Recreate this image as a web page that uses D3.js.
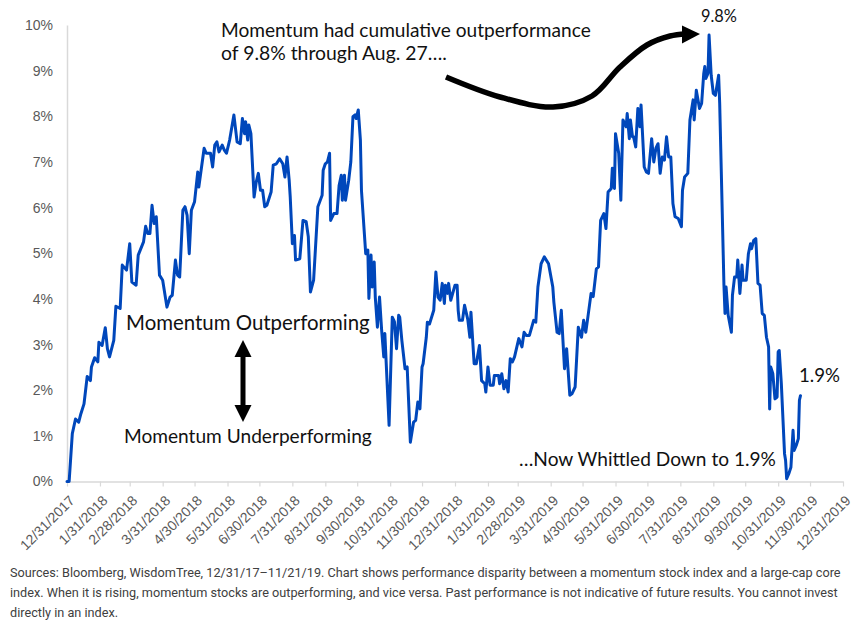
<!DOCTYPE html>
<html><head><meta charset="utf-8">
<script src="https://cdn.jsdelivr.net/npm/d3@7/dist/d3.min.js"></script>
<style>body{margin:0;background:#fff}svg{display:block}</style>
</head><body>
<svg id="chart" width="859" height="630"></svg>
<script>
// ---------------- DATA ----------------
const dates = [
"2017-12-31","2018-01-02","2018-01-05","2018-01-08","2018-01-11","2018-01-13","2018-01-16","2018-01-19","2018-01-22","2018-01-23","2018-01-26","2018-01-29","2018-01-30",
"2018-02-02","2018-02-05","2018-02-07","2018-02-09","2018-02-13","2018-02-15","2018-02-19","2018-02-21","2018-02-25","2018-02-28",
"2018-03-02","2018-03-06","2018-03-08","2018-03-13","2018-03-15","2018-03-17","2018-03-19","2018-03-21","2018-03-23","2018-03-25","2018-03-28","2018-03-31",
"2018-04-04","2018-04-07","2018-04-09","2018-04-12","2018-04-14","2018-04-16","2018-04-19","2018-04-21","2018-04-23","2018-04-25","2018-04-27","2018-04-30",
"2018-05-03","2018-05-04","2018-05-09","2018-05-11","2018-05-15","2018-05-17","2018-05-19","2018-05-21","2018-05-23","2018-05-26","2018-05-28","2018-05-30",
"2018-06-02","2018-06-06","2018-06-09","2018-06-12","2018-06-14","2018-06-16","2018-06-17","2018-06-19","2018-06-20","2018-06-22","2018-06-25","2018-06-27","2018-06-29",
"2018-07-01","2018-07-03","2018-07-05","2018-07-07","2018-07-11","2018-07-13","2018-07-16","2018-07-19","2018-07-22","2018-07-24","2018-07-26","2018-07-28","2018-07-29","2018-07-31",
"2018-08-02","2018-08-03","2018-08-07","2018-08-10","2018-08-13","2018-08-15","2018-08-17","2018-08-20","2018-08-24","2018-08-28","2018-08-29","2018-08-31",
"2018-09-02","2018-09-04","2018-09-05","2018-09-08","2018-09-11","2018-09-13","2018-09-15","2018-09-16","2018-09-18","2018-09-19","2018-09-22","2018-09-24","2018-09-26","2018-09-28","2018-09-29",
"2018-10-01","2018-10-03","2018-10-04","2018-10-08","2018-10-10","2018-10-11","2018-10-13","2018-10-14","2018-10-16","2018-10-17","2018-10-19","2018-10-21","2018-10-23","2018-10-25","2018-10-26","2018-10-30",
"2018-11-02","2018-11-04","2018-11-06","2018-11-08","2018-11-09","2018-11-11","2018-11-14","2018-11-16","2018-11-19","2018-11-22","2018-11-24","2018-11-26","2018-11-28","2018-11-30",
"2018-12-01","2018-12-04","2018-12-05","2018-12-07","2018-12-11","2018-12-13","2018-12-15","2018-12-17","2018-12-19","2018-12-21","2018-12-22","2018-12-24","2018-12-25","2018-12-27","2018-12-31",
"2019-01-02","2019-01-03","2019-01-04","2019-01-07","2019-01-09","2019-01-12","2019-01-14","2019-01-15","2019-01-18","2019-01-20","2019-01-23","2019-01-25","2019-01-28","2019-01-29","2019-01-31",
"2019-02-02","2019-02-05","2019-02-06","2019-02-10","2019-02-11","2019-02-13","2019-02-15","2019-02-17","2019-02-19","2019-02-21","2019-02-23","2019-02-25",
"2019-03-01","2019-03-04","2019-03-06","2019-03-08","2019-03-11","2019-03-15","2019-03-17","2019-03-19","2019-03-22","2019-03-25","2019-03-29",
"2019-04-02","2019-04-03","2019-04-06","2019-04-08","2019-04-10","2019-04-13","2019-04-15","2019-04-18","2019-04-20","2019-04-23","2019-04-26","2019-04-29",
"2019-05-01","2019-05-03","2019-05-05","2019-05-08","2019-05-10","2019-05-13","2019-05-15","2019-05-17","2019-05-20","2019-05-22","2019-05-24","2019-05-27","2019-05-28","2019-05-30","2019-05-31",
"2019-06-03","2019-06-05","2019-06-07","2019-06-10","2019-06-11","2019-06-13","2019-06-14","2019-06-16","2019-06-17","2019-06-19","2019-06-21","2019-06-23","2019-06-24","2019-06-27","2019-06-29",
"2019-07-01","2019-07-04","2019-07-06","2019-07-08","2019-07-10","2019-07-12","2019-07-14","2019-07-16","2019-07-18","2019-07-20","2019-07-22","2019-07-24","2019-07-26","2019-07-29",
"2019-08-01","2019-08-02","2019-08-04","2019-08-07","2019-08-09","2019-08-12","2019-08-13","2019-08-15","2019-08-18","2019-08-20","2019-08-22","2019-08-23","2019-08-24","2019-08-26","2019-08-27","2019-08-29","2019-08-31",
"2019-09-02","2019-09-05","2019-09-06","2019-09-08","2019-09-10","2019-09-11","2019-09-12","2019-09-14","2019-09-17","2019-09-18","2019-09-20","2019-09-22","2019-09-23","2019-09-25","2019-09-27","2019-09-28",
"2019-10-01","2019-10-03","2019-10-05","2019-10-06","2019-10-08","2019-10-10","2019-10-12","2019-10-14","2019-10-16","2019-10-18","2019-10-20","2019-10-22","2019-10-23","2019-10-24","2019-10-26","2019-10-28","2019-10-30","2019-10-31",
"2019-11-01","2019-11-03","2019-11-06","2019-11-07","2019-11-08","2019-11-10","2019-11-12","2019-11-14","2019-11-15","2019-11-17","2019-11-19","2019-11-20","2019-11-21"
];
const values = [
0.00,0.00,1.05,1.37,1.30,1.48,1.70,2.30,2.21,2.51,2.71,2.62,3.05,
2.98,3.37,2.91,2.73,3.09,3.84,3.79,4.74,4.63,5.21,
4.37,4.30,4.96,5.25,5.59,5.43,5.43,6.05,5.65,5.80,4.52,4.41,
3.82,4.04,4.08,4.85,4.52,4.48,5.94,6.02,5.83,4.99,5.94,6.13,
6.78,6.45,7.30,7.19,7.19,6.89,7.37,7.44,7.22,7.37,7.26,7.19,
7.48,8.03,7.44,7.40,7.95,7.62,7.88,7.48,7.81,7.62,6.23,6.56,6.75,
6.38,6.38,6.02,6.05,6.34,6.93,6.96,7.07,6.96,6.67,7.11,6.60,6.23,5.21,
5.39,4.85,4.88,5.72,5.69,5.36,4.15,4.41,6.02,6.27,6.82,6.96,
7.00,7.19,5.72,5.87,5.87,6.49,6.71,6.16,6.71,6.16,6.60,7.00,7.99,8.03,7.95,
8.14,7.48,6.38,4.99,5.07,4.01,4.96,4.26,4.81,4.04,3.38,4.04,3.31,2.73,3.24,1.23,
3.60,3.50,2.91,3.64,3.60,3.09,2.47,2.51,0.86,1.30,1.34,1.74,1.59,2.51,
2.58,3.16,3.49,3.45,3.75,4.59,4.04,3.97,4.34,3.90,4.30,4.12,4.34,3.97,4.30,
4.30,3.75,3.53,3.53,3.86,3.55,3.16,3.71,2.58,2.58,2.98,2.21,2.14,1.96,2.51,
2.11,2.11,2.32,2.32,2.14,2.36,2.03,2.21,1.96,2.69,2.62,2.73,
3.13,2.95,3.27,3.20,3.20,3.53,3.49,4.26,4.77,4.92,4.77,
4.26,3.93,3.27,3.24,3.75,2.47,2.91,1.89,1.92,2.07,3.38,3.16,
3.53,3.27,3.60,4.12,4.05,4.66,4.70,5.72,5.87,5.54,6.34,6.42,6.86,6.42,7.62,
7.19,6.16,7.92,7.77,8.06,7.51,7.92,7.55,7.55,7.33,8.17,7.77,8.25,6.89,6.78,
6.75,7.51,7.00,7.30,7.40,6.75,7.11,7.04,7.55,7.11,7.11,6.09,5.80,5.76,
5.58,6.38,6.67,6.75,7.92,8.36,7.92,8.57,8.17,8.28,8.94,9.09,8.83,8.94,9.78,8.90,8.50,
8.46,8.90,8.28,6.30,4.30,3.68,4.26,3.64,3.27,4.08,4.48,4.48,4.85,4.12,4.74,4.41,
4.41,4.99,5.21,5.10,5.28,5.32,4.34,4.30,3.68,3.64,3.16,2.95,1.59,2.51,2.36,1.81,1.85,2.84,
2.87,2.14,0.61,0.46,0.06,0.17,0.31,1.12,0.68,0.79,0.94,1.78,1.88
];
const xTickLabels = ["12/31/2017","1/31/2018","2/28/2018","3/31/2018","4/30/2018","5/31/2018","6/30/2018","7/31/2018","8/31/2018","9/30/2018","10/31/2018","11/30/2018","12/31/2018","1/31/2019","2/28/2019","3/31/2019","4/30/2019","5/31/2019","6/30/2019","7/31/2019","8/31/2019","9/30/2019","10/31/2019","11/30/2019","12/31/2019"];
const yTickValues = [0,1,2,3,4,5,6,7,8,9,10];
const peakLabel = "9.8%";
const endLabel = "1.9%";
const noteTop = ["Momentum had cumulative outperformance", "of 9.8% through Aug. 27…."];
const noteOut = "Momentum Outperforming";
const noteUnder = "Momentum Underperforming";
const noteNow = "…Now Whittled Down to 1.9%";
const footnote = [
"Sources: Bloomberg, WisdomTree, 12/31/17–11/21/19. Chart shows performance disparity between a momentum stock index and a large-cap core",
"index. When it is rising, momentum stocks are outperforming, and vice versa. Past performance is not indicative of future results. You cannot invest",
"directly in an index."
];

// ---------------- CHART ----------------
const svg = d3.select("#chart");
const parseDate = d3.timeParse("%Y-%m-%d");
const parseTick = d3.timeParse("%m/%d/%Y");
const tickDates = xTickLabels.map(parseTick);
const series = dates.map((d, i) => ({date: parseDate(d), value: values[i]}));
if (dates.length !== values.length) console.error("length mismatch", dates.length, values.length);

const x = d3.scaleTime().domain([tickDates[0], tickDates[tickDates.length - 1]]).range([67, 843]);
const y = d3.scaleLinear().domain([0, 10]).range([481.5, 25]);
const axisGrey = "#d9d9d9";
const labelGrey = "#595959";
const tickFont = "'Liberation Sans', Arial, sans-serif";

// Y axis
const yAxis = svg.append("g").attr("transform", "translate(67,0)")
  .call(d3.axisLeft(y).tickValues(yTickValues).tickSize(0).tickSizeOuter(0).tickPadding(14).tickFormat(d => d + "%"));
yAxis.select(".domain").attr("stroke", axisGrey).attr("stroke-width", 1.5);
yAxis.selectAll("text").attr("font-family", tickFont).attr("font-size", 14).attr("fill", labelGrey);

// X axis
const xAxis = svg.append("g").attr("transform", "translate(0," + y(0) + ")")
  .call(d3.axisBottom(x).tickValues(tickDates).tickSize(5).tickSizeOuter(0).tickFormat((d, i) => xTickLabels[i]));
xAxis.select(".domain").attr("stroke", axisGrey).attr("stroke-width", 1.5);
xAxis.selectAll(".tick line").attr("stroke", axisGrey).attr("stroke-width", 1.2);
xAxis.selectAll("text")
  .attr("font-family", tickFont).attr("font-size", 14).attr("fill", labelGrey)
  .attr("text-anchor", "end").attr("x", 0).attr("y", 0).attr("dy", 0)
  .attr("transform", "translate(8,20) rotate(-45)");

// Series line
svg.append("path").datum(series)
  .attr("fill", "none").attr("stroke", "#0047bb").attr("stroke-width", 3)
  .attr("stroke-linejoin", "round").attr("stroke-linecap", "round")
  .attr("d", d3.line().x(d => x(d.date)).y(d => y(d.value)));

// ---------------- ANNOTATIONS ----------------
const annFont = "Lato, 'Open Sans', sans-serif";
function fit(sel, target) {
  const w = sel.node().getComputedTextLength();
  const fs = parseFloat(sel.attr("font-size"));
  sel.attr("font-size", fs * target / w);
  return sel;
}
function addText(str, x0, base, width, fs) {
  const t = svg.append("text").attr("x", x0).attr("y", base)
    .attr("font-family", annFont).attr("font-size", fs).attr("fill", "#111").text(str);
  fit(t, width);
  return t;
}
addText(noteTop[0], 221, 37, 370, 18);
addText(noteTop[1], 221, 59.5, 226, 18);
addText(peakLabel, 701, 22, 36, 15);
addText(noteOut, 126, 330, 244, 18);
addText(noteUnder, 124, 443, 248, 18);
addText(noteNow, 519, 466, 257, 18);
addText(endLabel, 799, 382, 41, 16);

// curved arrow to peak
const curvePts = [[446,77],[500,97],[553,107],[592,96],[620,67],[647,45],[670,36],[686,34]];
svg.append("path")
  .attr("d", d3.line().curve(d3.curveCatmullRom)(curvePts))
  .attr("fill", "none").attr("stroke", "#000").attr("stroke-width", 5.5);
svg.append("path").attr("d", "M682,25.5 L700,34 L682,43.5 Z").attr("fill", "#000");

// double-headed arrow
const ax = 243;
svg.append("rect").attr("x", ax - 2.5).attr("y", 354).attr("width", 5).attr("height", 54).attr("fill", "#000");
svg.append("path").attr("d", `M${ax},340 L${ax+8.5},357 L${ax-8.5},357 Z`).attr("fill", "#000");
svg.append("path").attr("d", `M${ax},422 L${ax+8.5},405 L${ax-8.5},405 Z`).attr("fill", "#000");

// footnote
const fnFont = "Roboto, 'Liberation Sans', sans-serif";
const fnBase = [577, 597, 617];
const fnSel = footnote.map((s, i) => svg.append("text").attr("x", 10).attr("y", fnBase[i])
  .attr("font-family", fnFont).attr("font-size", 13).attr("fill", "#404040").text(s));
fit(fnSel[0], 832);
const fnSize = fnSel[0].attr("font-size");
fnSel[1].attr("font-size", fnSize);
fnSel[2].attr("font-size", fnSize);
</script>
</body></html>
